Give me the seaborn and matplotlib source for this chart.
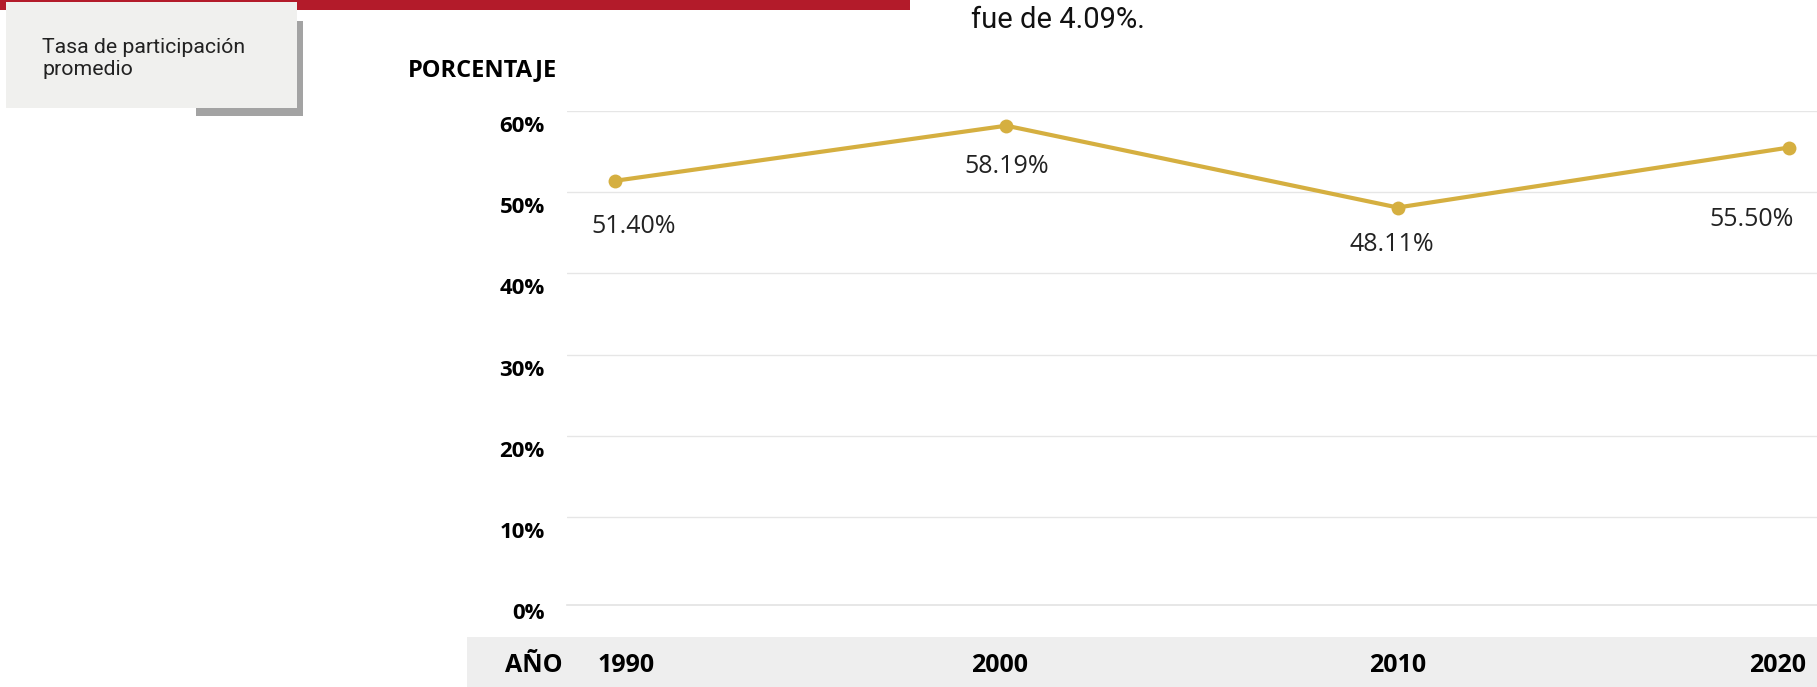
import matplotlib
matplotlib.use("Agg")
import matplotlib.pyplot as plt
import matplotlib.transforms as mtransforms
from matplotlib.patches import Rectangle
import seaborn as sns
import pandas as pd

# ---- data ----
years = [1990, 2000, 2010, 2020]
tasa = [51.40, 58.19, 48.11, 55.50]
value_labels = ["51.40%", "58.19%", "48.11%", "55.50%"]
y_ticks = [0, 10, 20, 30, 40, 50, 60]
y_tick_labels = ["0%", "10%", "20%", "30%", "40%", "50%", "60%"]
x_tick_labels = ["1990", "2000", "2010", "2020"]
legend_text = "Tasa de participación\npromedio"
top_text = "fue de 4.09%."
y_axis_title = "PORCENTAJE"
x_axis_title = "AÑO"

# ---- style (offsets in pixels) ----
label_offsets = [(19, -46), (0, -41), (-6, -37), (-37, -72)]
xtick_offsets = [11, -7, 0, -11]

W, H = 1817, 687
DPI = 100
sns.set_theme(style="white")
plt.rcParams["font.family"] = ["Open Sans", "DejaVu Sans"]

fig = plt.figure(figsize=(W / DPI, H / DPI), dpi=DPI)
fig.patch.set_facecolor("white")

ax_left, ax_right, ax_top, ax_bottom = 567, 1817, 111, 605
ax = fig.add_axes([ax_left / W, 1 - ax_bottom / H, (ax_right - ax_left) / W, (ax_bottom - ax_top) / H])
ax.set_facecolor("none")

df = pd.DataFrame({"year": years, "tasa": tasa})
gold = "#d5af40"
sns.lineplot(data=df, x="year", y="tasa", ax=ax, color=gold, linewidth=3,
             marker="o", markersize=10, markeredgewidth=0, clip_on=False, zorder=5)

ax.set_xlim(1988.773, 2020.716)
ax.set_ylim(-0.86, 60)
ax.set_xlabel("")
ax.set_ylabel("")

for s in ["top", "right", "left"]:
    ax.spines[s].set_visible(False)
ax.spines["bottom"].set_color("#e3e3e3")
ax.spines["bottom"].set_linewidth(1.2)

ax.set_yticks(y_ticks)
ax.set_yticklabels(y_tick_labels, fontsize=16, fontweight="bold", color="black")
ax.yaxis.grid(True, color="#e6e6e6", linewidth=1)
ax.set_axisbelow(True)
gl = ax.yaxis.get_gridlines()
gl[0].set_visible(False)
ax.tick_params(axis="y", length=0, pad=16)
for lab in ax.get_yticklabels():
    lab.set_transform(lab.get_transform() + mtransforms.ScaledTranslation(0, -13 / DPI, fig.dpi_scale_trans))

ax.set_xticks(years)
ax.set_xticklabels(x_tick_labels, fontsize=18, fontweight="bold", color="black")
ax.tick_params(axis="x", length=0, pad=34.5)
for lab, dx in zip(ax.get_xticklabels(), xtick_offsets):
    lab.set_transform(lab.get_transform() + mtransforms.ScaledTranslation(dx / DPI, 0, fig.dpi_scale_trans))

for x, y, t, (dx, dy) in zip(years, tasa, value_labels, label_offsets):
    ax.annotate(t, (x, y), xytext=(dx, dy), textcoords="offset pixels",
                ha="center", va="center", fontsize=18, color="#222222", annotation_clip=False)

# ---- decorations ----
fig.add_artist(Rectangle((467 / W, 0), (W - 467) / W, 50 / H, transform=fig.transFigure,
                         facecolor="#eeeeee", edgecolor="none", zorder=-1))
fig.add_artist(Rectangle((0, 1 - 10 / H), 910 / W, 10 / H, transform=fig.transFigure,
                         facecolor="#b31b2a", edgecolor="none", zorder=1))
fig.add_artist(Rectangle((196 / W, 1 - 116 / H), 107 / W, 95 / H, transform=fig.transFigure,
                         facecolor="#a3a3a3", edgecolor="none", zorder=2))
fig.add_artist(Rectangle((6 / W, 1 - 108 / H), 291 / W, 106 / H, transform=fig.transFigure,
                         facecolor="#f0f0ee", edgecolor="none", zorder=3))

fig.text(42 / W, 1 - 75 / H, legend_text, fontsize=15.3, family=["Roboto", "DejaVu Sans"],
         color="#222222", ha="left", va="baseline", linespacing=1.2, zorder=4)
fig.text(1058 / W, 1 - 28 / H, top_text, fontsize=21, family=["Roboto", "DejaVu Sans"],
         color="#111111", ha="center", va="baseline")
fig.text(557 / W, 1 - 76 / H, y_axis_title, fontsize=17, fontweight="bold",
         color="black", ha="right", va="baseline")
fig.text(563 / W, 1 - 672 / H, x_axis_title, fontsize=18, fontweight="bold",
         color="black", ha="right", va="baseline")

fig.savefig("out.png", dpi=DPI)
